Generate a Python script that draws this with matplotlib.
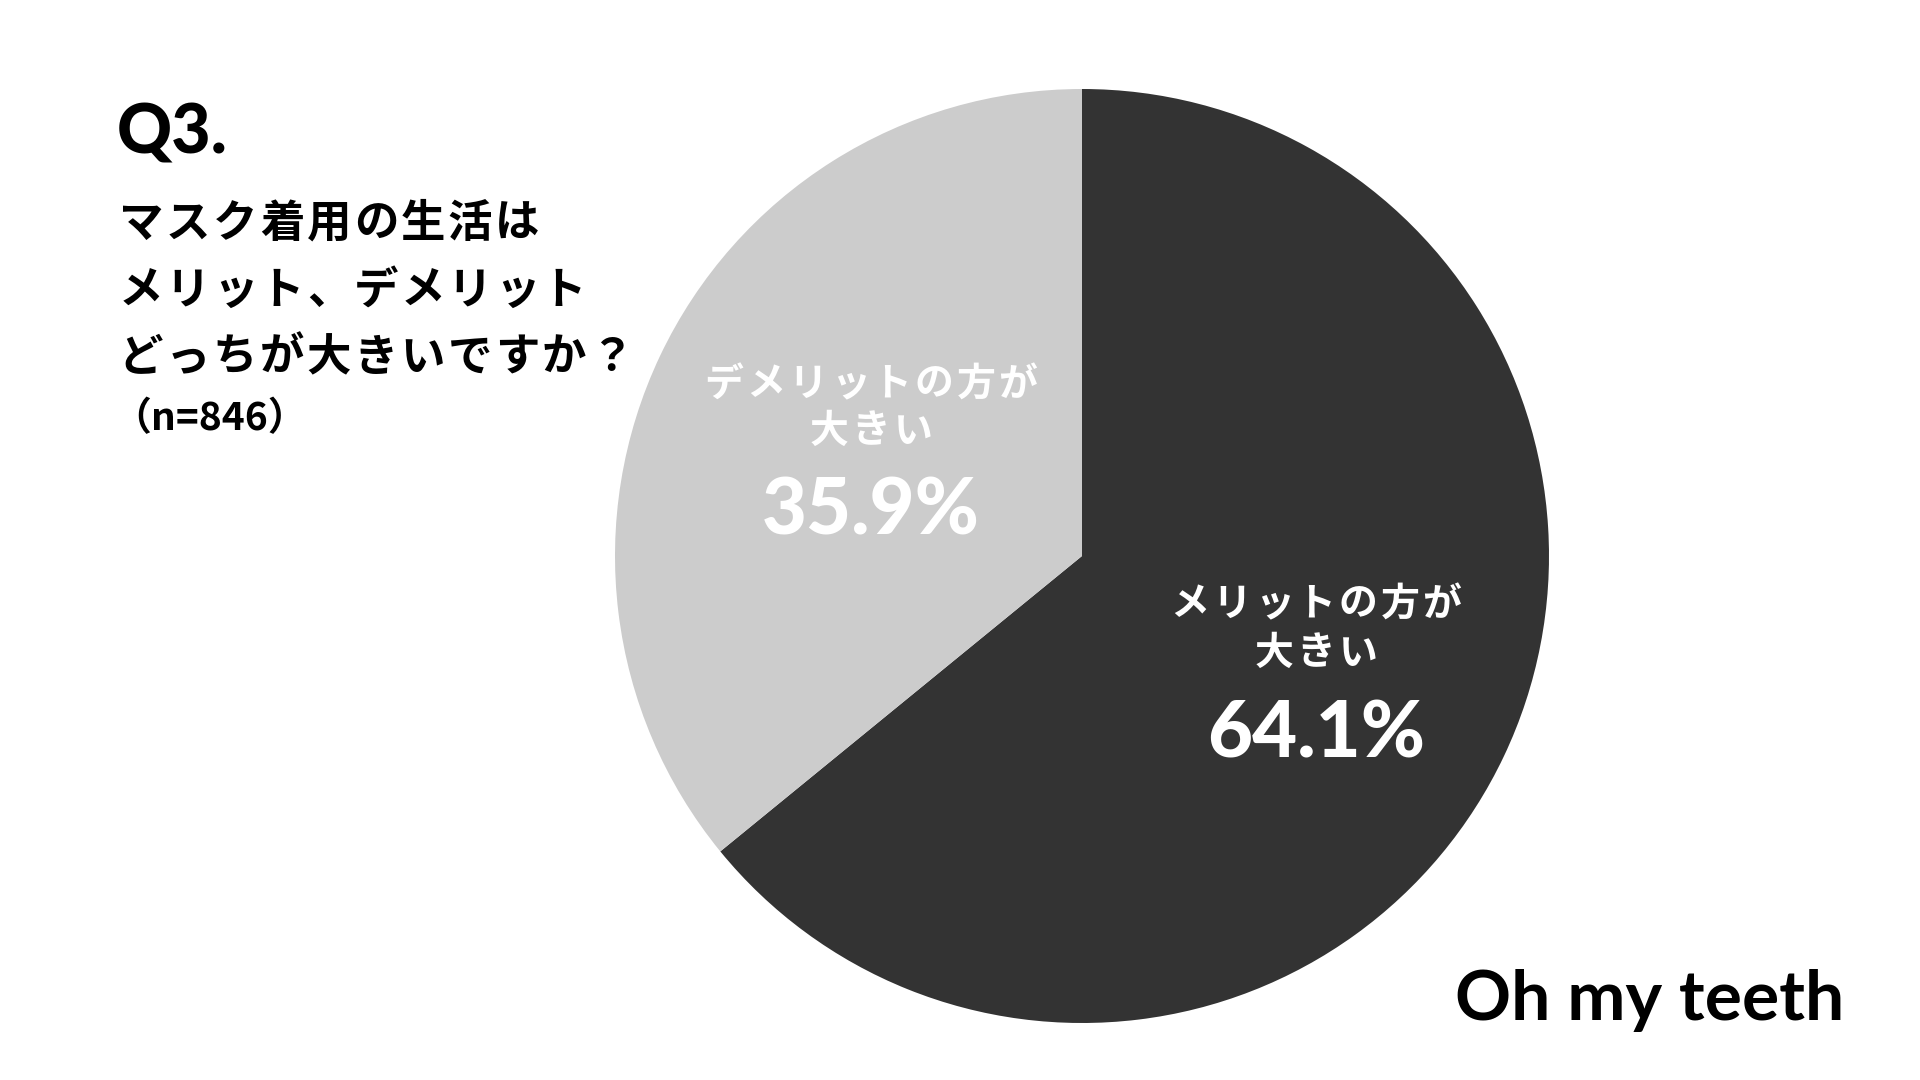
import matplotlib.pyplot as plt

plt.rcParams['font.family'] = ['Noto Sans CJK JP', 'DejaVu Sans']

label_lines = [["メリットの方が", "大きい"], ["デメリットの方が", "大きい"]]
shares = [64.1, 35.9]
colors = ["#333333", "#cccccc"]

question = "Q3."
title_lines = ["マスク着用の生活は", "メリット、デメリット", "どっちが大きいですか？"]
sample = "（n=846）"
brand = "Oh my teeth"

W, H = 1920, 1080
fig = plt.figure(figsize=(19.2, 10.8), dpi=100)
ax = fig.add_axes([0, 0, 1, 1])


def spaced(x, y, s, pitch, align="left", **kw):
    # draw a string one character at a time with a fixed pitch (letter spacing)
    if align == "center":
        x = x - pitch * (len(s) - 1) / 2
    for i, ch in enumerate(s):
        ax.text(x + i * pitch, y, ch, ha="center", va="center", **kw)


# pie, dark slice starts at 12 o'clock and runs clockwise
cx, cy, r = 1082, H - 556, 467
ax.pie(shares, colors=colors, startangle=90, counterclock=False,
       center=(cx, cy), radius=r, wedgeprops=dict(linewidth=0))
ax.set_xlim(0, W)
ax.set_ylim(0, H)
ax.set_aspect("equal")
ax.axis("off")

# slice labels
label_pos = [(1316, [604, 653], 735), (871, [384, 431], 512)]
for lines, val, (x, ys, yv) in zip(label_lines, shares, label_pos):
    for line, y in zip(lines, ys):
        spaced(x, H - y, line, 42, align="center", color="white",
               fontsize=28, fontweight="bold")
    ax.text(x, H - yv, f"{val}%", ha="center", va="center", color="white",
            fontsize=56, fontweight="black", family=["Lato", "DejaVu Sans"])

# question block
ax.text(117, H - 134, question, ha="left", va="center", color="black",
        fontsize=49, fontweight="black", family=["Lato", "DejaVu Sans"])
for i, line in enumerate(title_lines):
    spaced(141, H - (224 + i * 67), line, 47, color="black",
           fontsize=32, fontweight="bold")
ax.text(112, H - 419, sample, ha="left", va="center", color="black",
        fontsize=28, fontweight="bold")

# brand
ax.text(1844, H - 1000, brand, ha="right", va="center", color="black",
        fontsize=50, fontweight="bold", family=["Lato", "DejaVu Sans"])

fig.savefig("out.png", dpi=100, facecolor="white")
